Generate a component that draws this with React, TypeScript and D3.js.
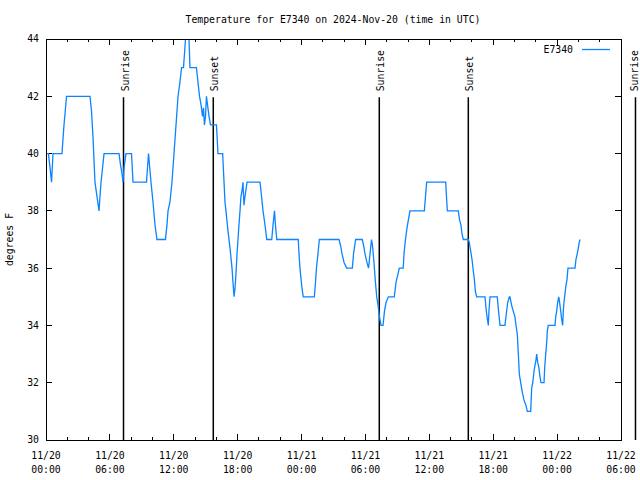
import React from "react";
import * as d3 from "d3";

const TITLE = "Temperature for E7340 on 2024-Nov-20 (time in UTC)";
const SERIES_NAME = "E7340";
const Y_LABEL = "degrees F";

// hours since 2024-11-20 00:00 UTC
const hours = [
  0.05, 0.23, 0.38, 0.52, 0.66, 1.5, 1.69, 1.93, 4.13, 4.27, 4.41, 4.6, 4.79, 4.98, 5.07, 5.17, 5.31, 5.45,
  6.86, 7.0, 7.14, 7.23, 7.33, 7.51, 8.03, 8.17, 9.44, 9.53, 9.63, 9.72, 9.86, 10.05, 10.24, 10.42,
  11.22, 11.36, 11.46, 11.64, 11.83, 12.02, 12.21, 12.4, 12.58, 12.73, 12.91, 13.01, 13.1, 13.43, 13.52,
  14.13, 14.27, 14.42, 14.56, 14.7, 14.79, 14.88, 14.98, 15.07, 15.17, 15.31, 15.45, 16.01, 16.15, 16.59,
  16.72, 16.81, 16.9, 17.09, 17.28, 17.47, 17.56, 17.66, 17.75, 17.84, 17.94, 18.03, 18.12, 18.22, 18.31,
  18.41, 18.5, 18.59, 18.69, 18.88, 20.1, 20.19, 20.38, 20.57, 20.73, 21.2, 21.32, 21.46, 21.55, 21.67,
  23.69, 23.76, 23.85, 24.04, 24.16, 25.2, 25.31, 25.4, 25.54, 25.67, 27.52, 27.66, 27.8, 27.99, 28.24,
  28.77, 28.88, 29.08, 29.7, 29.82, 29.96, 30.14, 30.29, 30.43, 30.57, 30.66, 30.8, 30.94, 31.06, 31.18,
  31.32, 31.46, 31.65, 31.79, 31.93, 32.15, 32.71, 32.87, 33.06, 33.18, 33.55, 33.62, 33.76, 33.9, 34.04,
  34.18, 35.53, 35.64, 35.75, 37.54, 37.61, 37.69, 38.72, 38.83, 38.97, 39.07, 39.19, 39.66, 39.75, 39.88,
  40.01, 40.13, 40.23, 40.32, 40.45, 41.23, 41.32, 41.42, 41.54, 41.6, 41.7, 42.38, 42.5, 42.64, 43.1,
  43.26, 43.36, 43.51, 43.57, 43.73, 43.88, 44.04, 44.14, 44.26, 44.36, 44.45, 44.58, 44.67, 44.77, 44.89,
  44.98, 45.08, 45.2, 45.52, 45.61, 45.71, 45.83, 45.92, 46.02, 46.08, 46.18, 46.3, 46.39, 46.49, 46.77,
  46.83, 46.93, 47.02, 47.08, 47.17, 47.8, 47.87, 47.96, 48.05, 48.15, 48.2, 48.34, 48.43, 48.52, 48.58,
  48.64, 48.74, 48.83, 48.93, 49.02, 49.14, 49.68, 49.77, 49.89, 49.99, 50.08, 50.15,
];

const temps = [
  40, 40, 39.5, 39, 40, 40, 41, 42, 42, 41.5, 40.6, 39, 38.5, 38, 38.5, 39, 39.5, 40,
  40, 39.6, 39.3, 39, 39.5, 40, 40, 39, 39, 39.5, 40, 39.6, 39, 38.3, 37.5, 37,
  37, 37.5, 38, 38.3, 39, 40, 41, 42, 42.5, 43, 43, 43.5, 44, 44, 43,
  43, 42.5, 42, 41.7, 41.3, 41.6, 41, 41.3, 42, 41.7, 41.3, 41, 41, 40, 40,
  39, 38.3, 38, 37.3, 36.7, 36, 35.5, 35, 35.3, 35.8, 36.5, 37, 37.5, 38, 38.5,
  38.7, 39, 38.2, 38.5, 39, 39, 38.7, 38, 37.5, 37, 37, 37.5, 38, 37.5, 37,
  37, 36.5, 36, 35.3, 35, 35, 35.5, 36, 36.5, 37, 37, 36.8, 36.5, 36.2, 36,
  36, 36.5, 37, 37, 36.8, 36.5, 36.2, 36, 36.5, 37, 36.8, 36.2, 35.5, 35, 34.7,
  34.3, 34, 34, 34.5, 34.8, 35, 35, 35.5, 35.8, 36, 36, 36.5, 37, 37.4, 37.7,
  38, 38, 38.5, 39, 39, 38.5, 38, 38, 37.7, 37.5, 37.2, 37, 37, 36.9, 36.6,
  36.3, 35.9, 35.6, 35.2, 35, 35, 34.6, 34.3, 34, 34.5, 35, 35, 34.5, 34, 34,
  34.5, 34.8, 35, 35, 34.7, 34.5, 34.3, 34, 33.7, 33, 32.3, 32, 31.8, 31.6, 31.4,
  31.3, 31.2, 31, 31, 31.8, 32, 32.4, 32.6, 32.8, 33, 32.7, 32.5, 32.2, 32, 32,
  32.5, 33, 33.4, 33.8, 34, 34, 34.3, 34.5, 34.8, 35, 34.9, 34.5, 34.2, 34, 34.5,
  34.8, 35.1, 35.4, 35.6, 36, 36, 36, 36.3, 36.5, 36.7, 36.9, 37,
];

const sunLabels = ["Sunrise", "Sunset", "Sunrise", "Sunset", "Sunrise"];
const sunHours = [7.28, 15.71, 31.3, 39.66, 55.36];

const xTickDates = ["11/20", "11/20", "11/20", "11/20", "11/21", "11/21", "11/21", "11/21", "11/22", "11/22"];
const xTickTimes = ["00:00", "06:00", "12:00", "18:00", "00:00", "06:00", "12:00", "18:00", "00:00", "06:00"];
const yTicks = [30, 32, 34, 36, 38, 40, 42, 44];

const W = 640;
const H = 480;
const L = 46;
const R = 621;
const T = 39;
const B = 440;
const FONT = "'DejaVu Sans Mono', 'Liberation Mono', monospace";
const FS = 9.8;
const LINE_COLOR = "#0a84ff";

export default function App() {
  const x = d3.scaleLinear().domain([0, 54]).range([L, R]);
  const y = d3.scaleLinear().domain([30, 44]).range([B, T]);
  const pts = hours.map((h, i) => [h, temps[i]] as [number, number]);
  const line = d3
    .line<[number, number]>()
    .x((d) => x(d[0]))
    .y((d) => y(d[1]));

  const minorTicks = d3.range(0, 54.001, 2);
  const majorTicks = d3.range(0, 54.001, 6);
  const sunTop = y(42) + 1;

  return (
    <div style={{ position: "fixed", left: 0, top: 0 }}>
      <svg width={W} height={H} style={{ display: "block", background: "#fff" }} fontFamily={FONT} fontSize={FS}>
        <defs>
          <clipPath id="plotclip">
            <rect x={L} y={T} width={R - L} height={B - T} />
          </clipPath>
        </defs>
        <rect x={0} y={0} width={W} height={H} fill="#fff" />
        <text x={333} y={23} textAnchor="middle" fill="#000">
          {TITLE}
        </text>
        <text transform={`translate(13,${(T + B) / 2}) rotate(-90)`} textAnchor="middle" fill="#000">
          {Y_LABEL}
        </text>

        {/* y ticks */}
        {yTicks.map((v) => (
          <g key={"y" + v}>
            <line x1={L} x2={L + 6} y1={y(v)} y2={y(v)} stroke="#000" shapeRendering="crispEdges" />
            <line x1={R} x2={R - 6} y1={y(v)} y2={y(v)} stroke="#000" shapeRendering="crispEdges" />
            <text x={39} y={y(v)} dy="0.35em" textAnchor="end" fill="#000">
              {v}
            </text>
          </g>
        ))}

        {/* x ticks */}
        {minorTicks.map((h) => {
          const major = h % 6 === 0;
          const len = major ? 6 : 3;
          return (
            <g key={"x" + h}>
              <line x1={x(h)} x2={x(h)} y1={B} y2={B - len} stroke="#000" shapeRendering="crispEdges" />
              <line x1={x(h)} x2={x(h)} y1={T} y2={T + len} stroke="#000" shapeRendering="crispEdges" />
            </g>
          );
        })}
        {majorTicks.map((h, i) => (
          <g key={"xl" + h}>
            <text x={x(h)} y={459} textAnchor="middle" fill="#000">
              {xTickDates[i]}
            </text>
            <text x={x(h)} y={473} textAnchor="middle" fill="#000">
              {xTickTimes[i]}
            </text>
          </g>
        ))}

        {/* sunrise / sunset markers */}
        {sunHours.map((h, i) => (
          <g key={"sun" + i}>
            <line x1={x(h)} x2={x(h)} y1={sunTop} y2={B} stroke="#000" strokeWidth={1.5} />
            <text
              transform={`translate(${Math.min(x(h) + 5, W - 2.5)},${sunTop - 6}) rotate(-90)`}
              textAnchor="start"
              fill="#000"
            >
              {sunLabels[i]}
            </text>
          </g>
        ))}

        {/* data line */}
        <path d={line(pts) || ""} fill="none" stroke={LINE_COLOR} strokeWidth={1.3} clipPath="url(#plotclip)" strokeLinejoin="miter" />

        {/* border */}
        <rect x={L} y={T} width={R - L} height={B - T} fill="none" stroke="#000" shapeRendering="crispEdges" />

        {/* legend */}
        <text x={573} y={50} dy="0.35em" textAnchor="end" fill="#000">
          {SERIES_NAME}
        </text>
        <line x1={582} x2={610} y1={49.5} y2={49.5} stroke={LINE_COLOR} strokeWidth={1.3} />
      </svg>
    </div>
  );
}
